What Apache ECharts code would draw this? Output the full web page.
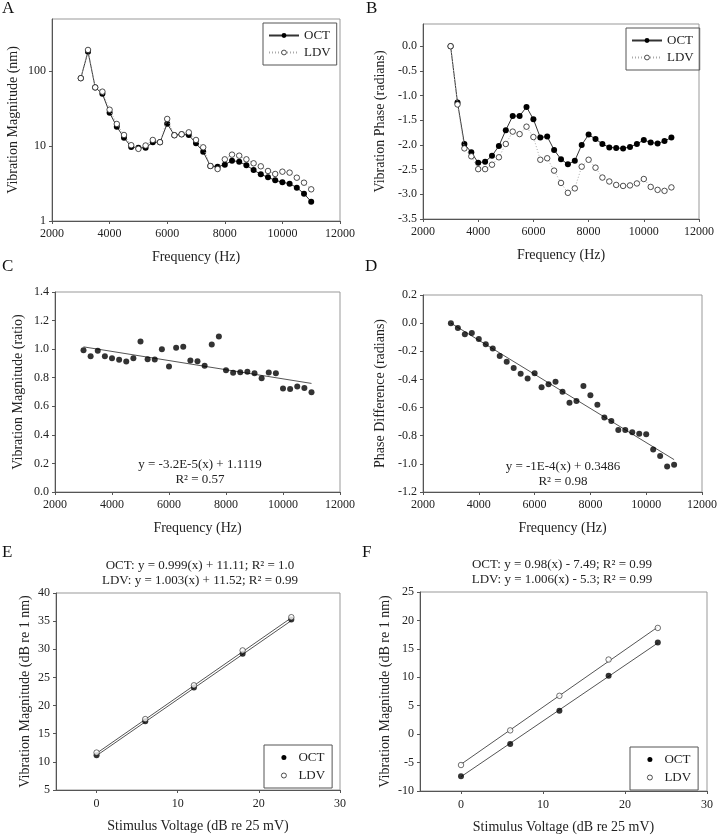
<!DOCTYPE html>
<html>
<head>
<meta charset="utf-8">
<script src="https://cdn.jsdelivr.net/npm/echarts@6/dist/echarts.min.js"></script>
<style>
  html, body { margin: 0; padding: 0; background: #fff; }
  #chart { width: 720px; height: 838px; }
</style>
</head>
<body>
<div id="chart"></div>
<script>
// frequency sweep (Hz)
const freq = [3000, 3250, 3500, 3750, 4000, 4250, 4500, 4750, 5000, 5250, 5500, 5750, 6000, 6250, 6500, 6750,
  7000, 7250, 7500, 7750, 8000, 8250, 8500, 8750, 9000, 9250, 9500, 9750, 10000, 10250, 10500, 10750, 11000]

// A: magnitude (nm)
const ampOct = [81, 183, 61, 50, 28, 18.2, 13, 9.75, 9.55, 9.5, 11.3, 11.3, 20, 14, 14.4, 14.1, 10.9, 8.44, 5.43, 5.32,
  5.66, 6.4, 6.2, 5.55, 4.8, 4.2, 3.83, 3.5, 3.29, 3.15, 2.79, 2.32, 1.81]
const ampLdv = [81, 193, 61, 53.5, 30.7, 19.8, 14.1, 10.3, 9.2, 10.2, 12.1, 11.3, 23.1, 14, 14.4, 15.3, 12.1, 9.65, 5.43, 4.95,
  6.67, 7.7, 7.46, 6.67, 5.9, 5.38, 4.66, 4.25, 4.56, 4.43, 3.79, 3.25, 2.65]

// B: phase (radians)
const phaseOct = [0, -1.14, -1.98, -2.15, -2.36, -2.34, -2.22, -2.02, -1.70, -1.415, -1.415, -1.23, -1.48, -1.85, -1.83, -2.10,
  -2.29, -2.39, -2.32, -2.00, -1.79, -1.88, -1.98, -2.05, -2.06, -2.07, -2.04, -1.98, -1.90, -1.95, -1.97, -1.92, -1.85]
const phaseLdv = [0, -1.18, -2.07, -2.23, -2.49, -2.49, -2.40, -2.25, -1.98, -1.73, -1.78, -1.63, -1.84, -2.30, -2.27, -2.52,
  -2.77, -2.97, -2.88, -2.44, -2.30, -2.46, -2.66, -2.74, -2.81, -2.83, -2.82, -2.78, -2.69, -2.85, -2.91, -2.93, -2.86]

// C: magnitude ratio
const ratio = [0.993, 0.951, 0.988, 0.951, 0.937, 0.925, 0.913, 0.937, 1.054, 0.930, 0.927, 1.0, 0.878, 1.009, 1.016, 0.920,
  0.916, 0.883, 1.033, 1.089, 0.852, 0.834, 0.838, 0.841, 0.831, 0.796, 0.836, 0.831, 0.724, 0.721, 0.738, 0.728, 0.698]
const ratioFit = [[3000, 1.016], [11000, 0.760]]

// D: phase difference
const phaseDiff = [0, -0.034, -0.079, -0.07, -0.112, -0.15, -0.18, -0.233, -0.275, -0.318, -0.36, -0.393, -0.356, -0.455,
  -0.434, -0.417, -0.488, -0.566, -0.554, -0.446, -0.512, -0.58, -0.67, -0.696, -0.76, -0.76, -0.775, -0.786, -0.789,
  -0.898, -0.945, -1.018, -1.006]
const phaseDiffFit = [[3000, 0.0], [11000, -0.97]]

// E / F: growth functions
const voltage = [0, 6, 12, 18, 24]
const eOct = [11.17, 17.2, 23.2, 29.2, 35.3]
const eLdv = [11.65, 17.6, 23.6, 29.8, 35.7]
const eOctFit = [[0, 11.11], [24, 35.09]]
const eLdvFit = [[0, 11.52], [24, 35.59]]
const fOct = [-7.42, -1.74, 4.11, 10.25, 16.1]
const fLdv = [-5.43, 0.66, 6.74, 13.12, 18.68]
const fOctFit = [[0, -7.49], [24, 16.03]]
const fLdvFit = [[0, -5.3], [24, 18.84]]

const voltTicks = [0, 10, 20, 30]

const FONT = 'Liberation Serif'
const TXT = '#222'

const pair = (xs, ys) => xs.map((x, i) => [x, ys[i]])

const chart = echarts.init(document.getElementById('chart'))

const grids = [
  { left: 52, top: 19, width: 288, height: 202 },
  { left: 423, top: 24, width: 276, height: 195 },
  { left: 55, top: 292, width: 285, height: 200 },
  { left: 423, top: 295, width: 281, height: 197 },
  { left: 56, top: 593, width: 284, height: 197 },
  { left: 420, top: 592, width: 287, height: 199 },
].map(g => ({ ...g, show: true, borderColor: '#999', borderWidth: 1, backgroundColor: 'transparent' }))

const baseAxis = (idx, extra) => ({
  gridIndex: idx,
  nameLocation: 'middle',
  nameTextStyle: { fontFamily: FONT, fontSize: 14, color: TXT },
  axisLine: { show: true, onZero: false, lineStyle: { color: '#555', width: 1 } },
  axisTick: { show: true, length: 3, lineStyle: { color: '#555' } },
  axisLabel: { fontFamily: FONT, fontSize: 12, color: TXT, margin: 6 },
  splitLine: { show: false },
  ...extra,
})

const freqAxis = idx => baseAxis(idx, {
  type: 'value', min: 2000, max: 12000, interval: 2000,
  name: 'Frequency (Hz)', nameGap: 29,
  axisLabel: { fontFamily: FONT, fontSize: 12, color: TXT, margin: 7, formatter: v => String(v) },
})

const voltAxis = idx => baseAxis(idx, {
  type: 'value', min: -5, max: 30,
  name: 'Stimulus Voltage (dB re 25 mV)', nameGap: 29,
  axisTick: { show: true, length: 3, lineStyle: { color: '#555' }, customValues: voltTicks },
  axisLabel: { fontFamily: FONT, fontSize: 12, color: TXT, margin: 8, customValues: voltTicks },
})

const fixed1 = v => {
  const r = Math.round(v * 10) / 10
  return (Math.abs(r) < 1e-9 ? 0 : r).toFixed(1)
}

const xAxes = [freqAxis(0), freqAxis(1), freqAxis(2), freqAxis(3), voltAxis(4), voltAxis(5)]

const yAxes = [
  baseAxis(0, {
    type: 'log', logBase: 10, min: 1, max: 500,
    name: 'Vibration Magnitude (nm)', nameGap: 32,
    axisLabel: {
      fontFamily: FONT, fontSize: 12, color: TXT, margin: 6, showMaxLabel: false,
      formatter: v => ([1, 10, 100].includes(Math.round(v)) ? String(Math.round(v)) : ''),
    },
  }),
  baseAxis(1, {
    type: 'value', min: -3.5, max: 0.45, interval: 0.5,
    name: 'Vibration Phase (radians)', nameGap: 36,
    axisLabel: { fontFamily: FONT, fontSize: 12, color: TXT, margin: 6, showMaxLabel: false, formatter: fixed1 },
  }),
  baseAxis(2, {
    type: 'value', min: 0, max: 1.4, interval: 0.2,
    name: 'Vibration Magnitude (ratio)', nameGap: 30,
    axisLabel: { fontFamily: FONT, fontSize: 12, color: TXT, margin: 6, formatter: fixed1 },
  }),
  baseAxis(3, {
    type: 'value', min: -1.2, max: 0.2, interval: 0.2,
    name: 'Phase Difference (radians)', nameGap: 36,
    axisLabel: { fontFamily: FONT, fontSize: 12, color: TXT, margin: 6, formatter: fixed1 },
  }),
  baseAxis(4, {
    type: 'value', min: 5, max: 40, interval: 5,
    name: 'Vibration Magnitude (dB re 1 nm)', nameGap: 24,
  }),
  baseAxis(5, {
    type: 'value', min: -10, max: 25, interval: 5,
    name: 'Vibration Magnitude (dB re 1 nm)', nameGap: 28,
  }),
]

const filled = { color: '#000', borderColor: '#000', borderWidth: 0 }
const hollow = { color: '#fff', borderColor: '#222', borderWidth: 0.8 }

const octLine = (idx, ys) => ({
  name: 'OCT', type: 'line', xAxisIndex: idx, yAxisIndex: idx,
  data: pair(freq, ys), symbol: 'circle', symbolSize: 6,
  lineStyle: { color: '#333', width: 1 }, itemStyle: filled, z: 3,
})
const ldvLine = (idx, ys) => ({
  name: 'LDV', type: 'line', xAxisIndex: idx, yAxisIndex: idx,
  data: pair(freq, ys), symbol: 'circle', symbolSize: 5.5,
  lineStyle: { color: '#aaa', width: 1, type: [1, 2] }, itemStyle: hollow, z: 4,
})
const fitLine = (idx, data) => ({
  type: 'line', xAxisIndex: idx, yAxisIndex: idx, data, symbol: 'none',
  lineStyle: { color: '#555', width: 1 }, z: 2, silent: true,
})
const dots = (name, idx, xs, ys, empty) => ({
  name, type: 'scatter', xAxisIndex: idx, yAxisIndex: idx, data: pair(xs, ys),
  symbol: 'circle', symbolSize: empty ? 5.5 : 6,
  itemStyle: empty ? hollow : filled, z: empty ? 4 : 3,
})

const series = [
  octLine(0, ampOct), ldvLine(0, ampLdv),
  octLine(1, phaseOct), ldvLine(1, phaseLdv),
  fitLine(2, ratioFit), dots('ratio', 2, freq, ratio, false),
  fitLine(3, phaseDiffFit), dots('diff', 3, freq, phaseDiff, false),
  fitLine(4, eOctFit), fitLine(4, eLdvFit), dots('OCT', 4, voltage, eOct, false), dots('LDV', 4, voltage, eLdv, true),
  fitLine(5, fOctFit), fitLine(5, fLdvFit), dots('OCT', 5, voltage, fOct, false), dots('LDV', 5, voltage, fLdv, true),
]

const legendBase = {
  orient: 'vertical', borderColor: '#555', borderWidth: 1,
  textStyle: { fontFamily: FONT, fontSize: 13, color: TXT }, selectedMode: false,
}
const lineLegend = (left, top) => ({
  ...legendBase, left, top, itemWidth: 30, itemHeight: 6, itemGap: 4, padding: [6, 6, 6, 5],
  data: [
    { name: 'OCT', itemStyle: { borderWidth: 0 } },
    { name: 'LDV', itemStyle: { borderWidth: 0.8 } },
  ],
})
const dotLegend = (left, top) => ({
  ...legendBase, left, top, itemWidth: 19, itemHeight: 5, itemGap: 5, padding: [6, 7, 6, 17],
  data: [
    { name: 'OCT', icon: 'circle', itemStyle: { color: '#000', borderColor: '#000', borderWidth: 0 } },
    { name: 'LDV', icon: 'circle', itemStyle: { color: '#fff', borderColor: '#222', borderWidth: 0.8 } },
  ],
})

const label = (text, left, top, size) => ({
  type: 'text', left, top,
  style: { text, fontFamily: FONT, fontSize: size || 17, fill: '#111' },
})
const centered = (text, x, y) => ({
  type: 'text', x, y,
  style: { text, fontFamily: FONT, fontSize: 13, fill: TXT, align: 'center', verticalAlign: 'middle' },
})

chart.setOption({
  animation: false,
  backgroundColor: '#fff',
  grid: grids,
  xAxis: xAxes,
  yAxis: yAxes,
  legend: [lineLegend(263, 23), lineLegend(626, 28), dotLegend(264, 745), dotLegend(630, 747)],
  series,
  graphic: [
    label('A', 2, 0), label('B', 366, 0),
    label('C', 2, 258), label('D', 365, 258),
    label('E', 2, 544), label('F', 362, 544),
    centered('y = -3.2E-5(x) + 1.1119', 200, 465),
    centered('R² = 0.57', 200, 480),
    centered('y = -1E-4(x) + 0.3486', 563, 467),
    centered('R² = 0.98', 563, 482),
    centered('OCT: y = 0.999(x) + 11.11; R² = 1.0', 200, 566),
    centered('LDV: y = 1.003(x) + 11.52; R² = 0.99', 200, 581),
    centered('OCT: y = 0.98(x) - 7.49; R² = 0.99', 562, 565),
    centered('LDV: y = 1.006(x) - 5.3; R² = 0.99', 562, 580),
  ],
})
</script>
</body>
</html>
